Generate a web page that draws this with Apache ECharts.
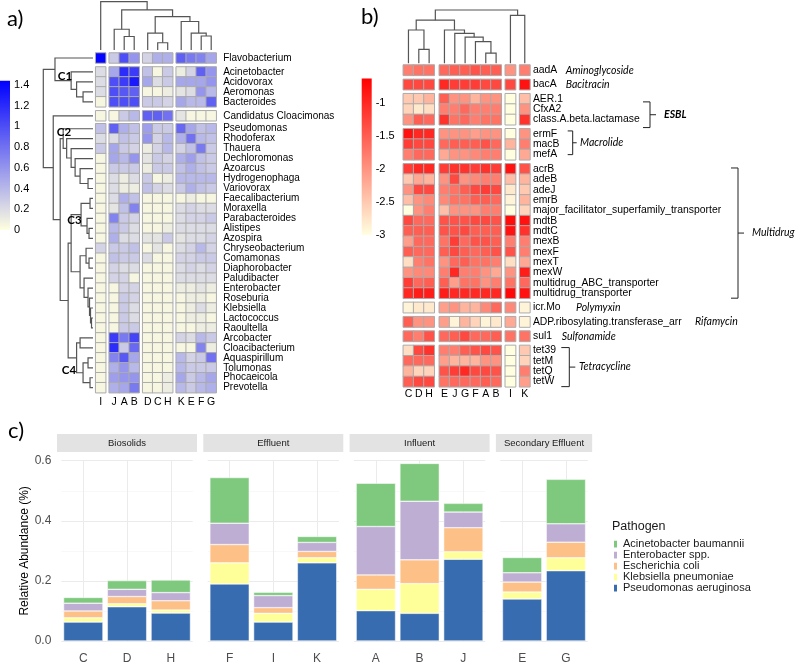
<!DOCTYPE html>
<html>
<head>
<meta charset="utf-8">
<script src="https://cdn.jsdelivr.net/npm/echarts@6.0.0/dist/echarts.min.js"></script>
<style>html,body{margin:0;padding:0;background:#fff;}#chart{width:800px;height:665px;}</style>
</head>
<body>
<div id="chart"></div>
<script>
// ======================= DATA =======================
// ---- Panel a: genus relative abundance heatmap ----
const aColumns = ['I','J','A','B','D','C','H','K','E','F','G'];
const aColBlockSizes = [1,3,3,4];
const aRows = ['Flavobacterium','Acinetobacter','Acidovorax','Aeromonas','Bacteroides','Candidatus Cloacimonas',
  'Pseudomonas','Rhodoferax','Thauera','Dechloromonas','Azoarcus','Hydrogenophaga','Variovorax','Faecalibacterium',
  'Moraxella','Parabacteroides','Alistipes','Azospira','Chryseobacterium','Comamonas','Diaphorobacter','Paludibacter',
  'Enterobacter','Roseburia','Klebsiella','Lactococcus','Raoultella','Arcobacter','Cloacibacterium','Aquaspirillum',
  'Tolumonas','Phocaeicola','Prevotella'];
const aRowBlockSizes = [1,4,1,27];
const aValues = [
  [1.42,0.3,1.0,0.6,0.25,0.45,0.45,0.9,0.75,0.7,0.5],
  [0.2,0.5,1.2,1.1,0.35,0.05,0.3,0.1,0.25,0.9,0.6],
  [0.2,1.0,1.1,1.3,0.5,0.2,0.3,0.5,0.5,0.5,0.6],
  [0.2,1.0,0.95,0.9,0.05,0.05,0.1,0.15,0.2,0.6,0.4],
  [0.05,1.0,1.0,1.0,0.3,0.3,0.25,0.5,0.4,0.4,0.9],
  [0.05,0.05,0.3,0.4,0.9,0.9,0.8,0.15,0.05,0.05,0.05],
  [0.35,0.9,0.45,0.35,0.55,0.3,0.3,0.85,0.5,0.35,0.4],
  [0.2,0.2,0.35,0.3,0.6,0.25,0.4,0.45,0.8,0.4,0.35],
  [0.3,0.5,0.3,0.25,0.1,0.25,0.4,0.25,0.35,0.75,0.3],
  [0.05,0.5,0.4,0.6,0.15,0.3,0.25,0.45,0.55,0.35,0.3],
  [0.05,0.3,0.3,0.3,0.1,0.3,0.3,0.35,0.45,0.35,0.3],
  [0.05,0.2,0.1,0.2,0.3,0.05,0.1,0.4,0.4,0.4,0.4],
  [0.05,0.2,0.1,0.1,0.35,0.25,0.2,0.3,0.45,0.35,0.3],
  [0.05,0.2,0.45,0.35,0.05,0.05,0.05,0.05,0.1,0.05,0.05],
  [0.05,0.15,0.35,0.7,0.05,0.05,0.05,0.2,0.25,0.2,0.2],
  [0.05,0.7,0.3,0.25,0.05,0.05,0.05,0.2,0.25,0.25,0.3],
  [0.05,0.4,0.3,0.2,0.05,0.05,0.1,0.2,0.2,0.2,0.2],
  [0.05,0.45,0.2,0.2,0.15,0.15,0.3,0.15,0.2,0.2,0.25],
  [0.25,0.3,0.3,0.35,0.05,0.15,0.05,0.2,0.25,0.4,0.25],
  [0.05,0.35,0.3,0.3,0.2,0.05,0.05,0.25,0.25,0.3,0.3],
  [0.05,0.25,0.2,0.2,0.05,0.05,0.05,0.2,0.25,0.2,0.25],
  [0.05,0.25,0.25,0.05,0.05,0.05,0.05,0.2,0.2,0.2,0.2],
  [0.05,0.05,0.25,0.25,0.05,0.05,0.05,0.1,0.1,0.15,0.1],
  [0.05,0.05,0.3,0.25,0.05,0.05,0.05,0.05,0.1,0.1,0.05],
  [0.05,0.05,0.3,0.2,0.05,0.05,0.05,0.05,0.1,0.2,0.1],
  [0.05,0.05,0.3,0.2,0.05,0.05,0.05,0.05,0.1,0.1,0.05],
  [0.05,0.05,0.3,0.3,0.05,0.05,0.05,0.05,0.05,0.1,0.1],
  [0.05,1.1,0.75,1.05,0.05,0.05,0.05,0.25,0.2,0.4,0.3],
  [0.05,1.2,0.3,0.85,0.05,0.05,0.05,0.05,0.05,0.7,0.1],
  [0.05,0.7,0.95,0.5,0.05,0.05,0.05,0.4,0.25,0.3,0.8],
  [0.05,0.45,0.6,0.4,0.05,0.05,0.05,0.4,0.3,0.3,0.3],
  [0.05,0.55,0.6,0.6,0.05,0.05,0.1,0.5,0.3,0.4,0.5],
  [0.05,0.45,0.5,0.75,0.05,0.05,0.1,0.4,0.3,0.4,0.45]
];
const aScale = [0, 1.44];
const aScaleTickStep = 0.2;
// dendrograms: [height, left, right]
const aColTree = [1.0, 'I', [0.83, [0.43, 'J', [0.28, 'A', 'B']],
  [0.69, [0.35, 'D', [0.15, 'C', 'H']], [0.59, 'K', [0.35, 'E', [0.29, 'F', 'G']]]]]];
const aRowTree = [1.0,
  [0.765, 'Flavobacterium', [0.44, 'Acinetobacter', [0.33, 'Acidovorax', [0.2, 'Aeromonas', 'Bacteroides']]]],
  [0.8, 'Candidatus Cloacimonas',
    [0.66,
      [0.6, 'Pseudomonas', [0.53, 'Rhodoferax', [0.44, 'Thauera', [0.36, 'Dechloromonas', [0.26, 'Azoarcus', [0.1, 'Hydrogenophaga', 'Variovorax']]]]]],
      [0.5,
        [0.44, [0.24, [0.06, 'Faecalibacterium', 'Moraxella'], [0.12, 'Parabacteroides', [0.08, 'Alistipes', 'Azospira']]],
               [0.26, [0.14, 'Chryseobacterium', [0.08, 'Comamonas', 'Diaphorobacter']],
                      [0.18, 'Paludibacter', [0.1, 'Enterobacter', [0.07, 'Roseburia', [0.05, 'Klebsiella', [0.03, 'Lactococcus', 'Raoultella']]]]]]],
        [0.33, [0.26, 'Arcobacter', 'Cloacibacterium'], [0.2, [0.1, 'Aquaspirillum', 'Tolumonas'], [0.06, 'Phocaeicola', 'Prevotella']]]
      ]
    ]
  ]
];
const aClusterLabels = ['C1','C2','C3','C4'];

// ---- Panel b: ARG heatmap (log10 abundance) ----
const bColumns = ['C','D','H','E','J','G','F','A','B','I','K'];
const bColBlockSizes = [3,6,1,1];
const bRows = ['aadA','bacA','AER.1','CfxA2','class.A.beta.lactamase','ermF','macB','mefA','acrB','adeB','adeJ','emrB',
  'major_facilitator_superfamily_transporter','mdtB','mdtC','mexB','mexF','mexT','mexW','multidrug_ABC_transporter',
  'multidrug_transporter','icr.Mo','ADP.ribosylating.transferase_arr','sul1','tet39','tetM','tetQ','tetW'];
const bRowBlockSizes = [1,1,3,3,13,1,1,1,4];
const bValues = [
  [-1.8,-1.7,-1.7,-1.6,-1.5,-1.5,-1.4,-1.5,-1.5,-2.0,-1.8],
  [-1.3,-1.3,-1.3,-1.0,-1.2,-1.2,-1.2,-1.3,-1.3,-1.3,-0.8],
  [-2.5,-2.5,-2.3,-1.5,-2.0,-2.0,-2.3,-2.0,-2.0,-3.0,-2.4],
  [-2.6,-2.8,-2.7,-1.8,-1.8,-1.6,-1.8,-1.8,-1.8,-3.0,-2.0],
  [-2.0,-1.5,-1.6,-1.1,-1.7,-1.6,-1.8,-1.7,-1.7,-3.0,-1.1],
  [-0.8,-1.0,-1.0,-2.0,-2.0,-2.0,-2.1,-2.0,-2.0,-3.0,-2.0],
  [-1.2,-1.3,-1.3,-1.6,-1.5,-1.5,-1.5,-1.4,-1.6,-2.3,-1.8],
  [-1.8,-1.6,-1.6,-2.2,-2.0,-2.0,-1.9,-1.8,-1.8,-3.0,-2.2],
  [-1.2,-1.0,-1.0,-1.2,-1.1,-1.1,-1.2,-1.1,-1.2,-0.8,-1.4],
  [-2.5,-2.2,-2.3,-2.0,-1.3,-2.0,-1.9,-1.8,-1.8,-2.4,-2.3],
  [-2.0,-1.3,-1.3,-1.8,-1.7,-1.5,-1.3,-1.2,-1.3,-2.8,-2.5],
  [-2.4,-2.0,-1.9,-1.9,-1.7,-1.7,-1.5,-1.5,-1.6,-2.9,-2.3],
  [-3.0,-2.0,-1.8,-2.4,-2.0,-2.0,-2.0,-1.8,-1.8,-3.0,-2.6],
  [-1.3,-1.6,-1.6,-1.4,-1.4,-1.4,-1.3,-1.3,-1.4,-0.75,-0.8],
  [-1.5,-1.5,-1.5,-1.4,-1.4,-1.3,-1.5,-1.5,-1.5,-0.8,-1.1],
  [-2.1,-1.6,-1.6,-1.7,-1.2,-1.6,-1.4,-1.4,-1.5,-1.8,-1.8],
  [-1.5,-1.6,-1.6,-1.5,-1.3,-1.5,-1.6,-1.5,-1.4,-1.4,-1.8],
  [-2.7,-1.8,-1.7,-2.0,-1.6,-1.5,-1.7,-1.7,-1.8,-2.7,-2.2],
  [-2.0,-1.9,-1.9,-1.8,-1.0,-1.8,-1.8,-2.0,-2.2,-2.0,-0.9],
  [-1.2,-1.6,-1.5,-1.5,-2.1,-1.7,-1.7,-2.0,-1.8,-1.7,-1.6],
  [-1.0,-0.9,-0.9,-0.9,-1.0,-1.0,-1.0,-1.0,-1.0,-0.7,-0.8],
  [-2.9,-2.8,-2.8,-2.1,-2.0,-2.3,-2.3,-1.9,-1.6,-1.9,-2.9],
  [-1.5,-2.0,-2.0,-2.1,-2.9,-2.3,-2.6,-2.9,-2.8,-2.2,-2.9],
  [-1.6,-1.8,-1.4,-1.6,-1.5,-1.3,-1.6,-1.6,-1.5,-1.7,-1.7],
  [-2.7,-1.3,-1.1,-1.8,-1.8,-1.5,-1.4,-1.3,-1.4,-3.0,-2.5],
  [-1.6,-1.6,-1.6,-2.1,-2.3,-2.3,-2.3,-2.0,-2.0,-3.0,-2.6],
  [-2.3,-2.6,-2.6,-1.4,-1.2,-1.0,-1.3,-1.3,-1.4,-3.0,-1.8],
  [-1.5,-1.3,-1.3,-1.7,-1.6,-1.6,-1.6,-1.5,-1.6,-3.0,-2.1]
];
const bScale = [-3, -0.63];
const bScaleTickStep = 0.5;
const bColTree = [1.0, [0.81, [0.625, 'C', [0.26, 'D', 'H']],
  [0.625, 'E', [0.56, 'J', [0.49, 'G', [0.405, 'F', [0.19, 'A', 'B']]]]]], [0.9, 'I', 'K']];
const bClassNames = ['Aminoglycoside','Bacitracin','ESBL','Macrolide','Multidrug','Polymyxin','Rifamycin','Sulfonamide','Tetracycline'];
const bClassFirst = ['aadA','bacA','AER.1','ermF','acrB','icr.Mo','ADP.ribosylating.transferase_arr','sul1','tet39'];
const bClassLast  = ['aadA','bacA','class.A.beta.lactamase','mefA','multidrug_transporter','icr.Mo','ADP.ribosylating.transferase_arr','sul1','tetW'];

// ---- Panel c: pathogen relative abundance ----
const cFacets = ['Biosolids','Effluent','Influent','Secondary Effluent'];
const cFacetSamples = [['C','D','H'],['F','I','K'],['A','B','J'],['E','G']];
const cSamples = ['C','D','H','F','I','K','A','B','J','E','G'];
const cPathogens = ['Acinetobacter baumannii','Enterobacter spp.','Escherichia coli','Klebsiella pneumoniae','Pseudomonas aeruginosa'];
const cPseudomonas   = [0.063,0.114,0.093,0.190,0.063,0.260,0.101,0.092,0.272,0.140,0.234];
const cKlebsiella    = [0.014,0.010,0.010,0.070,0.029,0.017,0.071,0.099,0.025,0.023,0.043];
const cEcoli         = [0.023,0.024,0.031,0.061,0.019,0.021,0.048,0.079,0.080,0.033,0.052];
const cEnterobacter  = [0.026,0.024,0.027,0.071,0.040,0.030,0.161,0.195,0.052,0.031,0.061];
const cAcinetobacter = [0.019,0.029,0.042,0.152,0.011,0.020,0.144,0.126,0.029,0.051,0.148];
const cYTicks = [0, 0.6, 0.2];   // min, max, step

// ======================= STYLE / LAYOUT =======================
const FONT = "'Liberation Sans', Arial, sans-serif";
const CAL = "Lato, 'Liberation Sans', sans-serif";
const cColors = {
  'Acinetobacter baumannii':'#7FC97F','Enterobacter spp.':'#BEAED4','Escherichia coli':'#FDC086',
  'Klebsiella pneumoniae':'#FFFF99','Pseudomonas aeruginosa':'#386CB0'
};
const cStackOrder = [
  ['Pseudomonas aeruginosa', cPseudomonas], ['Klebsiella pneumoniae', cKlebsiella],
  ['Escherichia coli', cEcoli], ['Enterobacter spp.', cEnterobacter], ['Acinetobacter baumannii', cAcinetobacter]
];

const option = {animation:false, backgroundColor:'#fff', grid:[], xAxis:[], yAxis:[], series:[], visualMap:[]};
const hidden = {show:false};
function addGrid(grid, xAxis, yAxis) {
  const gi = option.grid.length;
  option.grid.push(Object.assign({containLabel:false}, grid));
  option.xAxis.push(Object.assign({gridIndex:gi}, xAxis));
  option.yAxis.push(Object.assign({gridIndex:gi}, yAxis));
  return gi;
}
function blocks(list, sizes) { const out=[]; let i=0; sizes.forEach(s=>{out.push(list.slice(i,i+s)); i+=s;}); return out; }

function buildHeatmap(cfg) {
  const colBlocks = blocks(cfg.cols, cfg.colSizes), rowBlocks = blocks(cfg.rows, cfg.rowSizes);
  const res = {series:[], col:{}, row:{}, cellH:cfg.cellH};
  let y = cfg.top;
  rowBlocks.forEach((rb, ri) => {
    let x = cfg.left;
    const h = rb.length * cfg.cellH;
    colBlocks.forEach((cb, ci) => {
      const w = cb.length * cfg.cellW;
      const gi = addGrid({left:x, top:y, width:w, height:h},
        {type:'category', data:cb, position:'bottom', axisLine:hidden, axisTick:hidden, splitLine:hidden,
         axisLabel:{show: ri === rowBlocks.length-1, interval:0, margin:cfg.colMargin, fontSize:cfg.colFont, fontFamily:FONT, color:'#000'}},
        {type:'category', data:rb, inverse:true, position:'right', axisLine:hidden, axisTick:hidden, splitLine:hidden,
         axisLabel:{show: ci === colBlocks.length-1, interval:0, margin:cfg.rowMargin, fontSize:cfg.rowFont, fontFamily:FONT, color:'#000'}});
      const data = [];
      rb.forEach((r, rj) => {
        const rIdx = cfg.rows.indexOf(r);
        cb.forEach((c, cj) => data.push([cj, rj, cfg.values[rIdx][cfg.cols.indexOf(c)]]));
      });
      res.series.push(option.series.length);
      option.series.push({type:'heatmap', xAxisIndex:gi, yAxisIndex:gi, data:data, silent:true,
        itemStyle:{borderColor:'#ababab', borderWidth:1}, emphasis:{disabled:true}});
      cb.forEach((c, k) => { res.col[c] = {gi:gi, idx:k}; });
      rb.forEach((r, k) => { res.row[r] = {gi:gi, idx:k}; });
      x += w + cfg.colGaps[ci];
    });
    y += h + cfg.rowGaps[ri];
  });
  return res;
}

// ---- Panel a heatmap ----
const HA = buildHeatmap({cols:aColumns, colSizes:aColBlockSizes, rows:aRows, rowSizes:aRowBlockSizes, values:aValues,
  left:95.7, top:53, cellW:10, cellH:9.96, colGaps:[3.5,3.5,3.5,0], rowGaps:[4,4,3,0],
  rowMargin:7, colMargin:4, rowFont:10, colFont:10.5});
// ---- Panel b heatmap ----
const HB = buildHeatmap({cols:bColumns, colSizes:bColBlockSizes, rows:bRows, rowSizes:bRowBlockSizes, values:bValues,
  left:403.3, top:65, cellW:10.33, cellH:10.35, colGaps:[5,4,4,0], rowGaps:[4,4,4,4,4,4,4,4,0],
  rowMargin:3, colMargin:2, rowFont:10.4, colFont:10.5});

option.visualMap.push({type:'continuous', show:false, min:aScale[0], max:aScale[1], seriesIndex:HA.series,
  inRange:{color:['#FFFFE0','#0000FF']}});
option.visualMap.push({type:'continuous', show:false, min:bScale[0], max:bScale[1], seriesIndex:HB.series,
  inRange:{color:['#FFFFE0','#FF0000']}});

// ---- colour bars (gradient area between the scale limits on a value axis) ----
function colorBar(box, scale, step, colTop, colBottom) {
  const gi = addGrid(box, {type:'category', data:[''], show:false},
    {type:'value', min:scale[0], max:scale[1], interval:step, position:'right', axisLine:hidden, axisTick:hidden, splitLine:hidden,
     axisLabel:{margin:4, fontSize:11, fontFamily:FONT, color:'#000', showMaxLabel:false}});
  option.series.push({type:'bar', xAxisIndex:gi, yAxisIndex:gi, data:[], silent:true,
    markArea:{silent:true, data:[[{yAxis:scale[0]}, {yAxis:scale[1]}]],
      itemStyle:{color:new echarts.graphic.LinearGradient(0,0,0,1,[{offset:0,color:colTop},{offset:1,color:colBottom}])}}});
}
colorBar({left:0, top:80.8, width:10, height:149.2}, aScale, aScaleTickStep, '#0000FF', '#FFFFE0');
colorBar({left:361.7, top:78.6, width:10, height:156.4}, bScale, bScaleTickStep, '#FF0000', '#FFFFE0');

// ---- dendrogram height scales ----
const valAx = {type:'value', min:0, max:1, show:false};
const gDA = addGrid({left:95.7, top:1.7, width:121, height:48.3}, valAx, valAx);
const gDL = addGrid({left:43.3, top:53, width:49.7, height:340}, Object.assign({inverse:true}, valAx), valAx);
const gDB = addGrid({left:403.3, top:10, width:127, height:53.3}, valAx, valAx);

// ---- Panel c facets ----
const cBand = 43.75, cGap = 6.3, cTop = 460.7, cHeight = 180.3;
const strips = [];
let fx = 57;
cFacets.forEach((f, fi) => {
  const samples = cFacetSamples[fi];
  const panelW = (samples.length + 0.2) * cBand;
  const first = fi === 0;
  const gi = addGrid({left:fx + 0.1*cBand, top:cTop, width:samples.length*cBand, height:cHeight},
    {type:'category', data:samples, axisLine:hidden, splitLine:hidden,
     axisTick:{show:true, inside:true, alignWithLabel:true, length:cHeight, lineStyle:{color:'#ebebeb', width:1}},
     axisLabel:{interval:0, margin:12, fontSize:12, fontFamily:FONT, color:'#4d4d4d'}},
    {type:'value', min:cYTicks[0], max:cYTicks[1], interval:cYTicks[2], axisLine:hidden, axisTick:hidden,
     splitLine:{show:true, lineStyle:{color:'#ebebeb', width:1}},
     minorTick:{show:false, splitNumber:2}, minorSplitLine:{show:true, lineStyle:{color:'#f3f3f3', width:0.6}},
     axisLabel:{show:first, margin:10, fontSize:12, fontFamily:FONT, color:'#4d4d4d', formatter:v=>v.toFixed(1)},
     name: first ? 'Relative Abundance (%)' : '', nameLocation:'middle', nameRotate:90, nameGap:30,
     nameTextStyle:{fontSize:12, fontFamily:FONT, color:'#000'}});
  cStackOrder.forEach(([name, arr]) => {
    option.series.push({type:'bar', name:name, xAxisIndex:gi, yAxisIndex:gi, stack:'s'+fi, barWidth:'90%', silent:true,
      data: samples.map(s => arr[cSamples.indexOf(s)]),
      itemStyle:{color:cColors[name], borderColor:'#ffffff', borderWidth:0.5}});
  });
  strips.push({x:fx, w:panelW, text:f});
  fx += panelW + cGap;
});

option.legend = {data:cPathogens, orient:'vertical', left:612, top:538.5, itemWidth:5, itemHeight:8.75, itemGap:0,
  icon:'rect', selectedMode:false, padding:0, textStyle:{fontFamily:FONT, fontSize:11, color:'#1a1a1a', lineHeight:8.75}};

const chart = echarts.init(document.getElementById('chart'), null, {renderer:'canvas', width:800, height:665});
chart.setOption(option);

// ======================= ANNOTATIONS (via library coordinate conversion) =======================
const G = [];
const LINE = {stroke:'#555', lineWidth:1.2, fill:null};
function colX(H, name) { const m = H.col[name]; return chart.convertToPixel({gridIndex:m.gi}, [m.idx, 0])[0]; }
function rowY(H, name) { const m = H.row[name]; return chart.convertToPixel({gridIndex:m.gi}, [0, m.idx])[1]; }
function hY(gi, h) { return chart.convertToPixel({gridIndex:gi}, [0, h])[1]; }
function hX(gi, h) { return chart.convertToPixel({gridIndex:gi}, [h, 0])[0]; }

function tree(node, leafPos, hPos, vertical) {
  if (typeof node === 'string') return {p:leafPos(node), e:hPos(0)};
  const L = tree(node[1], leafPos, hPos, vertical), R = tree(node[2], leafPos, hPos, vertical);
  const e = hPos(node[0]);
  const pts = vertical ? [[L.p,L.e],[L.p,e],[R.p,e],[R.p,R.e]] : [[L.e,L.p],[e,L.p],[e,R.p],[R.e,R.p]];
  G.push({type:'polyline', silent:true, shape:{points:pts}, style:LINE});
  return {p:(L.p+R.p)/2, e:e};
}
tree(aColTree, n => colX(HA, n), h => hY(gDA, h), true);
tree(aRowTree, n => rowY(HA, n), h => hX(gDL, h), false);
tree(bColTree, n => colX(HB, n), h => hY(gDB, h), true);

function txt(x, y, s, o) {
  G.push({type:'text', silent:true, style:Object.assign({x:x, y:y, text:s, fill:'#000', fontFamily:FONT, fontSize:10,
    align:'left', verticalAlign:'middle'}, o || {})});
}
// panel letters
txt(7, 19, 'a)', {fontFamily:CAL, fontSize:22});
txt(361, 17, 'b)', {fontFamily:CAL, fontSize:22});
txt(8, 431, 'c)', {fontFamily:CAL, fontSize:22});
// cluster labels
const clusterPos = [[65,76],[64,132.5],[74.5,220],[69,370]];
aClusterLabels.forEach((l, i) => txt(clusterPos[i][0], clusterPos[i][1], l,
  {fontFamily:CAL, fontWeight:'bold', fontSize:11.5, align:'center'}));

// ARG class annotations
const classLayout = {
  Aminoglycoside:{lx:565.7}, Bacitracin:{lx:565.7}, Polymyxin:{lx:576}, Rifamycin:{lx:695}, Sulfonamide:{lx:561.7},
  ESBL:{bx:650, tl:7, tr:6, dt:3, db:8, lx:664, bold:true},
  Macrolide:{bx:572.7, tl:5, tr:4, dt:-3, db:0, lx:580},
  Multidrug:{bx:738, tl:7, tr:6, dt:-1, db:5, lx:752},
  Tetracycline:{bx:569.3, tl:8, tr:6, dt:-3, db:5, lx:579}
};
bClassNames.forEach((name, i) => {
  const L = classLayout[name];
  const y1 = rowY(HB, bClassFirst[i]), y2 = rowY(HB, bClassLast[i]);
  const ym = (y1 + y2) / 2;
  if (L.bx !== undefined) {
    const t = y1 + L.dt, b = y2 + L.db, m = (t + b) / 2;
    G.push({type:'polyline', silent:true, shape:{points:[[L.bx-L.tl,t],[L.bx,t],[L.bx,b],[L.bx-L.tl,b]]}, style:{stroke:'#222', lineWidth:1, fill:null}});
    G.push({type:'polyline', silent:true, shape:{points:[[L.bx,m],[L.bx+L.tr,m]]}, style:{stroke:'#222', lineWidth:1, fill:null}});
    txt(L.lx, m, name, {fontFamily:CAL, fontStyle:'italic', fontWeight:L.bold?'bold':'normal', fontSize:10.5});
  } else {
    txt(L.lx, ym, name, {fontFamily:CAL, fontStyle:'italic', fontSize:10.5});
  }
});

// facet strips
strips.forEach(s => {
  G.push({type:'rect', silent:true, shape:{x:s.x, y:434, width:s.w, height:18}, style:{fill:'#e3e3e3'}});
  txt(s.x + s.w/2, 443, s.text, {align:'center', fontSize:9.5, fill:'#1a1a1a'});
});
// legend title
txt(612, 527, 'Pathogen', {fontSize:12.5, fill:'#1a1a1a'});

chart.setOption({graphic:{elements:G}});
</script>
</body>
</html>
